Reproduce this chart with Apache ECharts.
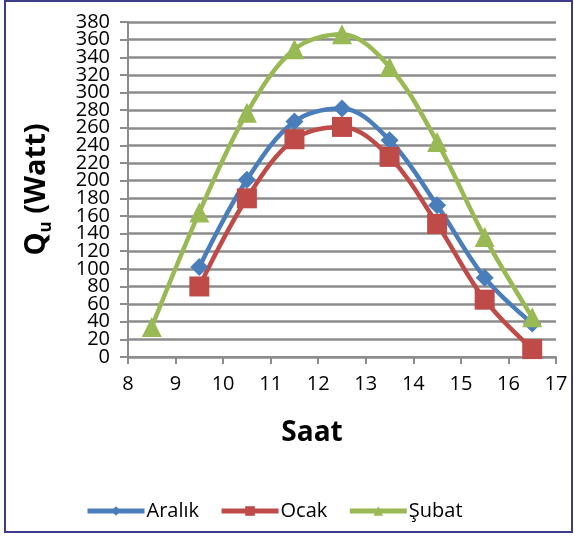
<!DOCTYPE html>
<html>
<head>
<meta charset="utf-8">
<script src="https://cdn.jsdelivr.net/npm/echarts@6/dist/echarts.min.js"></script>
<style>
  html,body{margin:0;padding:0;background:#fff;}
  #chart{width:574px;height:538px;}
</style>
</head>
<body>
<div id="chart"></div>
<script>
  // saat değerleri
  var saatAralikOcak = [9.5, 10.5, 11.5, 12.5, 13.5, 14.5, 15.5, 16.5];
  var saatSubat = [8.5, 9.5, 10.5, 11.5, 12.5, 13.5, 14.5, 15.5, 16.5];
  var aralik = [102, 201, 267, 282, 246, 172, 90, 38];
  var ocak = [80, 180, 247, 261, 227, 151, 65, 9];
  var subat = [34, 164, 277, 349, 366, 329, 244, 136, 45];
  // y ekseni etiketleri (iki eksene bölünmüş, üst üste binmesin diye)
  var yLabelsA = [0, 40, 80, 120, 160, 200, 240, 280, 320, 360];
  var yLabelsB = [20, 60, 100, 140, 180, 220, 260, 300, 340, 380];

  function pairs(xs, ys){
    return xs.map(function(x, i){ return [x, ys[i]]; });
  }

  var font = 'Open Sans';
  var gridColor = '#8c8c8c';
  var labelStyle = {fontFamily:font, fontSize:20, color:'#000', margin:18};

  var chart = echarts.init(document.getElementById('chart'));
  chart.setOption({
    animation:false,
    color:['#4a7ebb', '#be4b48', '#98b954'],
    graphic:[{
      type:'rect',
      shape:{x:5, y:1, width:567, height:531},
      style:{fill:'none', stroke:'#3c3c8a', lineWidth:2},
      z:-1
    }],
    grid:{left:128, top:22, right:18, bottom:181},
    legend:{
      bottom:12,
      left:80,
      itemWidth:57,
      itemHeight:12,
      itemGap:20,
      lineStyle:{width:5},
      textStyle:{fontFamily:font, fontSize:20, color:'#000', padding:[0,0,0,-3]},
      data:['Aralık', 'Ocak', 'Şubat']
    },
    xAxis:{
      type:'value',
      min:8, max:17, interval:1,
      name:'Saat',
      nameLocation:'middle',
      nameGap:62,
      nameTextStyle:{fontFamily:font, fontSize:28, fontWeight:'bold', color:'#000', padding:[0,60,0,0]},
      axisLine:{lineStyle:{color:gridColor, width:2}},
      axisTick:{show:true, length:7, lineStyle:{color:gridColor, width:2}},
      axisLabel:{fontFamily:font, fontSize:20, color:'#000', margin:17},
      splitLine:{show:false}
    },
    yAxis:[
      {
        type:'value',
        min:0, max:380, interval:20,
        position:'left',
        name:'{a|Q}{b|u}{a| (Watt)}',
        nameLocation:'middle',
        nameGap:73,
        nameTextStyle:{
          rich:{
            a:{fontFamily:font, fontSize:29, fontWeight:'bold', color:'#000', lineHeight:36},
            b:{fontFamily:font, fontSize:17, fontWeight:'bold', color:'#000', verticalAlign:'bottom', lineHeight:36, padding:[15,0,0,0]}
          }
        },
        axisLine:{show:true, lineStyle:{color:gridColor, width:2}},
        axisTick:{show:true, length:8, lineStyle:{color:gridColor, width:2}},
        axisLabel:Object.assign({customValues:yLabelsA}, labelStyle),
        splitLine:{lineStyle:{color:gridColor, width:2.5}}
      },
      {
        type:'value',
        min:0, max:380, interval:20,
        position:'left',
        offset:0,
        axisLine:{show:false},
        axisTick:{show:false},
        axisLabel:Object.assign({customValues:yLabelsB}, labelStyle),
        splitLine:{show:false}
      }
    ],
    series:[
      {
        name:'Aralık', type:'line', smooth:0.35,
        symbol:'diamond', symbolSize:18,
        lineStyle:{width:4.5},
        data:pairs(saatAralikOcak, aralik)
      },
      {
        name:'Ocak', type:'line', smooth:0.35,
        symbol:'rect', symbolSize:20,
        lineStyle:{width:4.5},
        data:pairs(saatAralikOcak, ocak)
      },
      {
        name:'Şubat', type:'line', smooth:0.35,
        symbol:'triangle', symbolSize:20,
        lineStyle:{width:4.5},
        data:pairs(saatSubat, subat)
      }
    ]
  });
</script>
</body>
</html>
